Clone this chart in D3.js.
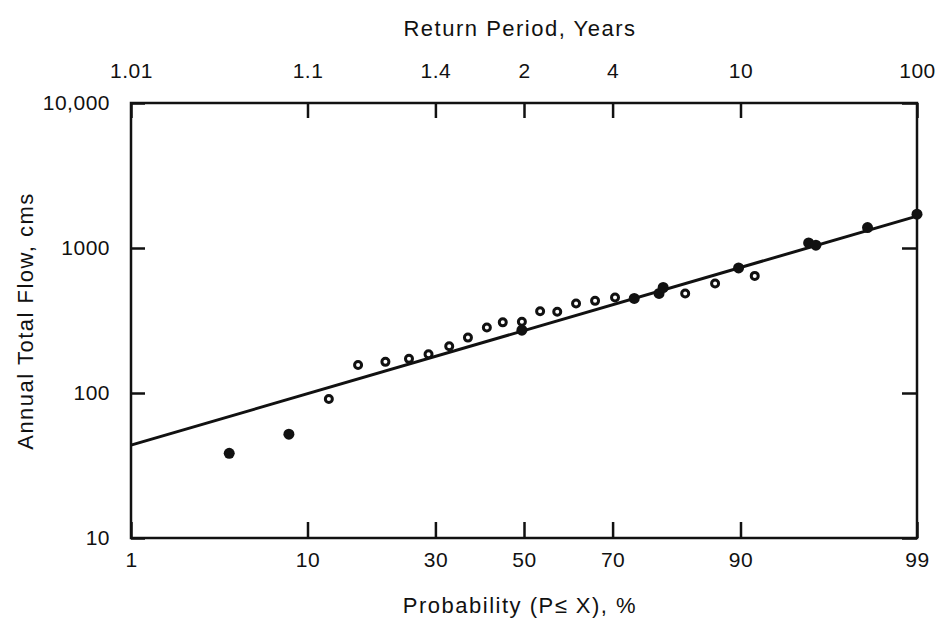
<!DOCTYPE html>
<html>
<head>
<meta charset="utf-8">
<script src="https://cdn.jsdelivr.net/npm/d3@7"></script>
<style>
  body { margin: 0; background: #fff; }
  text { font-family: "Liberation Sans", Arial, Helvetica, sans-serif; fill: #111; }
</style>
</head>
<body>
<div id="chart"></div>
<script>
// probability (%) and flow (cms)
var probOpen = [12.4, 16.3, 20.6, 24.8, 28.6, 32.9, 37.0, 41.3, 45.0, 49.5, 53.8, 57.8, 62.1, 66.3, 70.5, 83.0, 87.1, 91.4];
var flowOpen = [91, 156, 164, 172, 185, 210, 241, 283, 307, 310, 366, 363, 414, 432, 456, 486, 569, 642];

var probSolid = [4.05, 8.2, 49.5, 74.3, 78.8, 79.5, 89.8, 95.4, 95.8, 97.9, 99.0];
var flowSolid = [38.4, 52, 271, 449, 486, 534, 729, 1084, 1046, 1384, 1710];

// fitted log-normal line, end points
var fitProb = [1, 99];
var fitFlow = [43.7, 1660];

var xTicks = [1, 10, 30, 50, 70, 90, 99];
var topLabels = ["1.01", "1.1", "1.4", "2", "4", "10", "100"];
var yTicks = [10, 100, 1000, 10000];

var width = 942, height = 623;
var margin = {top: 103, right: 25, bottom: 85, left: 131};

// inverse normal cdf (Acklam)
function probit(p) {
  var a = [-3.969683028665376e+01, 2.209460984245205e+02, -2.759285104469687e+02, 1.383577518672690e+02, -3.066479806614716e+01, 2.506628277459239e+00];
  var b = [-5.447609879822406e+01, 1.615858368580409e+02, -1.556989798598866e+02, 6.680131188771972e+01, -1.328068155288572e+01];
  var c = [-7.784894002430293e-03, -3.223964580411365e-01, -2.400758277161838e+00, -2.549732539343734e+00, 4.374664141464968e+00, 2.938163982698783e+00];
  var d = [7.784695709041462e-03, 3.224671290700398e-01, 2.445134137142996e+00, 3.754408661907416e+00];
  var pl = 0.02425, q, r;
  if (p < pl) {
    q = Math.sqrt(-2 * Math.log(p));
    return (((((c[0]*q+c[1])*q+c[2])*q+c[3])*q+c[4])*q+c[5]) / ((((d[0]*q+d[1])*q+d[2])*q+d[3])*q+1);
  } else if (p <= 1 - pl) {
    q = p - 0.5; r = q*q;
    return (((((a[0]*r+a[1])*r+a[2])*r+a[3])*r+a[4])*r+a[5])*q / (((((b[0]*r+b[1])*r+b[2])*r+b[3])*r+b[4])*r+1);
  } else {
    q = Math.sqrt(-2 * Math.log(1 - p));
    return -(((((c[0]*q+c[1])*q+c[2])*q+c[3])*q+c[4])*q+c[5]) / ((((d[0]*q+d[1])*q+d[2])*q+d[3])*q+1);
  }
}
function z(pct) { return probit(pct / 100); }

var svg = d3.select("#chart").append("svg")
  .attr("width", width)
  .attr("height", height)
  .style("background", "#fff");

var x = d3.scaleLinear()
  .domain([z(1), z(99)])
  .range([margin.left, width - margin.right]);

var y = d3.scaleLog()
  .domain([10, 10000])
  .range([height - margin.bottom, margin.top]);

var tickFont = "21px";

// bottom axis
var gBottom = svg.append("g")
  .attr("transform", "translate(0," + (height - margin.bottom) + ")")
  .call(d3.axisBottom(x)
    .tickValues(xTicks.map(z))
    .tickFormat(function(d, i) { return xTicks[i]; })
    .tickSizeInner(-16).tickSizeOuter(0).tickPadding(14));

// top axis (return period)
var gTop = svg.append("g")
  .attr("transform", "translate(0," + margin.top + ")")
  .call(d3.axisTop(x)
    .tickValues(xTicks.map(z))
    .tickFormat(function(d, i) { return topLabels[i]; })
    .tickSizeInner(-15).tickSizeOuter(0).tickPadding(25));

// left axis
var gLeft = svg.append("g")
  .attr("transform", "translate(" + margin.left + ",0)")
  .call(d3.axisLeft(y)
    .tickValues(yTicks)
    .tickFormat(function(d) { return d == 10000 ? "10,000" : d; })
    .tickSizeInner(-14).tickSizeOuter(0).tickPadding(21));

// right axis
var gRight = svg.append("g")
  .attr("transform", "translate(" + (width - margin.right) + ",0)")
  .call(d3.axisRight(y)
    .tickValues(yTicks)
    .tickFormat("")
    .tickSizeInner(-15).tickSizeOuter(0));

[gBottom, gTop, gLeft, gRight].forEach(function(g) {
  g.select(".domain").remove();
  g.selectAll(".tick line").attr("stroke", "#111").attr("stroke-width", 2.5);
  g.selectAll("text")
    .style("font-size", tickFont)
    .style("letter-spacing", "0.5px")
    .attr("fill", "#111");
});

// frame
svg.append("rect")
  .attr("x", margin.left)
  .attr("y", margin.top)
  .attr("width", width - margin.left - margin.right)
  .attr("height", height - margin.top - margin.bottom)
  .attr("fill", "none")
  .attr("stroke", "#111")
  .attr("stroke-width", 2.5);

// fitted line
var line = d3.line()
  .x(function(d) { return x(z(d[0])); })
  .y(function(d) { return y(d[1]); });

svg.append("path")
  .datum(fitProb.map(function(p, i) { return [p, fitFlow[i]]; }))
  .attr("d", line)
  .attr("fill", "none")
  .attr("stroke", "#111")
  .attr("stroke-width", 3);

// open circles
svg.selectAll(".openPt")
  .data(probOpen.map(function(p, i) { return [p, flowOpen[i]]; }))
  .enter().append("circle")
  .attr("class", "openPt")
  .attr("cx", function(d) { return x(z(d[0])); })
  .attr("cy", function(d) { return y(d[1]); })
  .attr("r", 3.5)
  .attr("fill", "#fff")
  .attr("stroke", "#111")
  .attr("stroke-width", 3);

// solid circles
svg.selectAll(".solidPt")
  .data(probSolid.map(function(p, i) { return [p, flowSolid[i]]; }))
  .enter().append("circle")
  .attr("class", "solidPt")
  .attr("cx", function(d) { return x(z(d[0])); })
  .attr("cy", function(d) { return y(d[1]); })
  .attr("r", 5.5)
  .attr("fill", "#111");

// titles
svg.append("text")
  .attr("x", 520).attr("y", 36)
  .attr("text-anchor", "middle")
  .style("font-size", "22px")
  .style("letter-spacing", "1.5px")
  .text("Return Period, Years");

svg.append("text")
  .attr("x", 520).attr("y", 613)
  .attr("text-anchor", "middle")
  .style("font-size", "22px")
  .style("letter-spacing", "1.5px")
  .text("Probability (P\u2264 X), %");

svg.append("text")
  .attr("transform", "translate(33,321) rotate(-90)")
  .attr("text-anchor", "middle")
  .style("font-size", "22px")
  .style("letter-spacing", "1.5px")
  .text("Annual Total Flow, cms");
</script>
</body>
</html>
